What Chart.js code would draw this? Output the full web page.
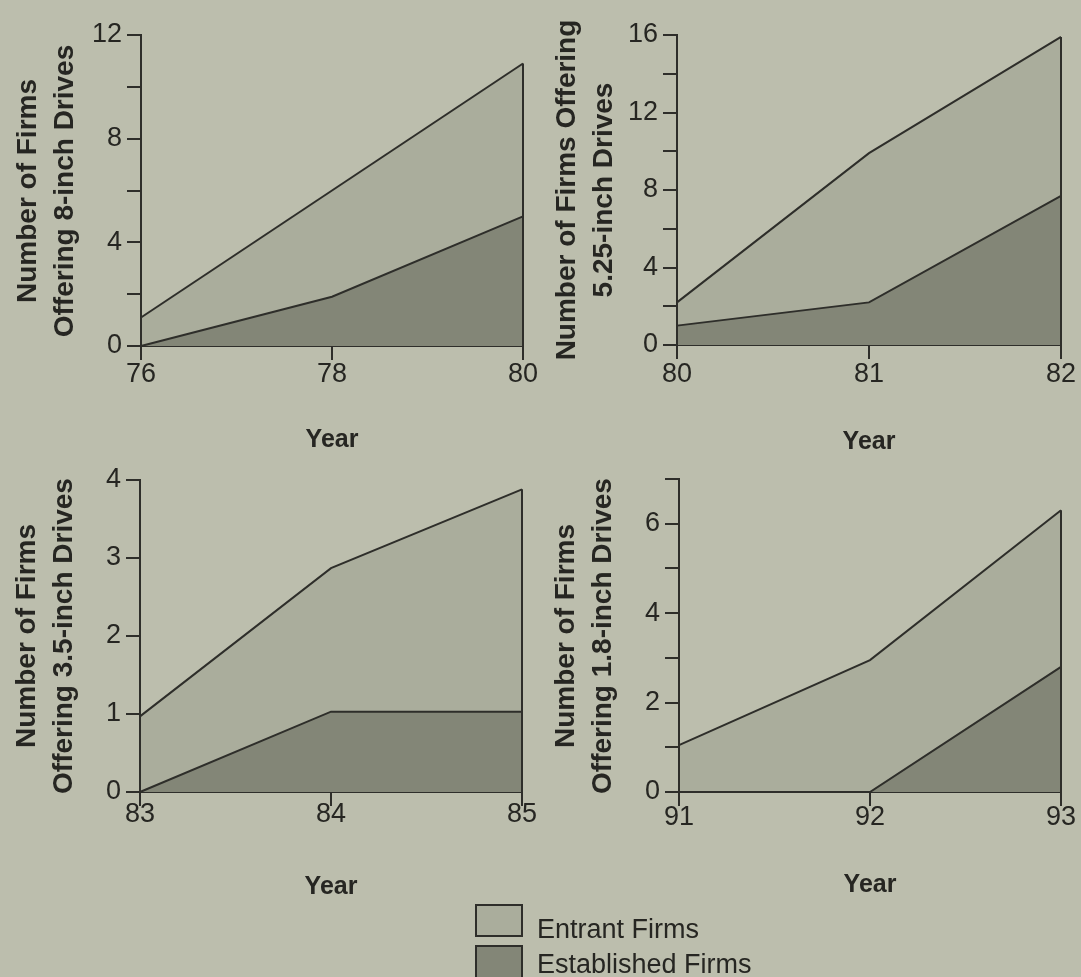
<!DOCTYPE html>
<html>
<head>
<meta charset="utf-8">
<script src="https://cdn.jsdelivr.net/npm/chart.js@4.4.1/dist/chart.umd.min.js"></script>
<style>
  html, body { margin: 0; padding: 0; }
  body { width: 1081px; height: 977px; overflow: hidden; position: relative; background: #bcbead; font-family: "Liberation Sans", Arial, sans-serif; color: #262622; }
  .panel { position: absolute; }
  .panel canvas { display: block; }
  .ytitle { position: absolute; width: 420px; height: 74px; line-height: 37px; font-size: 28px; font-weight: bold; text-align: center; white-space: nowrap; transform: rotate(-90deg); transform-origin: 50% 50%; }
  .lgbox { position: absolute; box-sizing: border-box; border: 2px solid #2e2e2a; }
  .lgtext { position: absolute; font-size: 27px; line-height: 32px; white-space: nowrap; }
</style>
</head>
<body>
<div id="root"></div>
<script>
// ---------- data ----------
const years8 = ['76', '78', '80'];
const entrant8 = [1.1, 4.1, 5.9];
const established8 = [0, 1.9, 5.0];

const years525 = ['80', '81', '82'];
const entrant525 = [1.2, 7.7, 8.2];
const established525 = [1.0, 2.2, 7.7];

const years35 = ['83', '84', '85'];
const entrant35 = [0.97, 1.84, 2.85];
const established35 = [0, 1.03, 1.03];

const years18 = ['91', '92', '93'];
const entrant18 = [1.05, 2.95, 3.5];
const established18 = [0, 0, 2.8];

const seriesNames = ['Entrant Firms', 'Established Firms'];
const xTitle = 'Year';
const yTitle8 = ['Number of Firms', 'Offering 8-inch Drives'];
const yTitle525 = ['Number of Firms Offering', '5.25-inch Drives'];
const yTitle35 = ['Number of Firms', 'Offering 3.5-inch Drives'];
const yTitle18 = ['Number of Firms', 'Offering 1.8-inch Drives'];

// y-axis ranges: max, tick step, label every
const yAxis8 = [12, 2, 4];
const yAxis525 = [16, 2, 4];
const yAxis35 = [4, 1, 1];
const yAxis18 = [7, 1, 2];

// ---------- styles ----------
const INK = '#2e2e2a';
const TEXT = '#262622';
const ENTRANT_FILL = '#aaad9c';
const ESTABLISHED_FILL = '#838677';
const FONT = '"Liberation Sans", Arial, sans-serif';

// panel geometry (layout only)
const panels = [
  { left: 0,   top: 0,   w: 540, h: 460, area: { l: 141, r: 523, t: 35, b: 346 }, titleOff: 20, tickPad: 1,  tc: [44.5, 190.5],
    labels: years8, entrant: entrant8, established: established8, yAxis: yAxis8, yTitle: yTitle8 },
  { left: 540, top: 0,   w: 541, h: 460, area: { l: 137, r: 521, t: 35, b: 345 }, titleOff: 18, tickPad: 2,  tc: [584, 190],
    labels: years525, entrant: entrant525, established: established525, yAxis: yAxis525, yTitle: yTitle525 },
  { left: 0,   top: 460, w: 540, h: 470, area: { l: 140, r: 522, t: 20, b: 332 }, titleOff: 43, tickPad: -5, tc: [44, 636],
    labels: years35, entrant: entrant35, established: established35, yAxis: yAxis35, yTitle: yTitle35 },
  { left: 540, top: 460, w: 541, h: 470, area: { l: 139, r: 521, t: 19, b: 332 }, titleOff: 45, tickPad: -2, tc: [583, 635.5],
    labels: years18, entrant: entrant18, established: established18, yAxis: yAxis18, yTitle: yTitle18 }
];

// draws the vertical edges of the stacked area at the first and last year
const areaEdges = {
  id: 'areaEdges',
  afterDatasetsDraw(chart) {
    const top = chart.getDatasetMeta(chart.data.datasets.length - 1);
    const y0 = chart.scales.y.getPixelForValue(0);
    const ctx = chart.ctx;
    ctx.save();
    ctx.strokeStyle = INK;
    ctx.lineWidth = 2;
    [top.data[0], top.data[top.data.length - 1]].forEach(pt => {
      ctx.beginPath();
      ctx.moveTo(pt.x, y0);
      ctx.lineTo(pt.x, pt.y);
      ctx.stroke();
    });
    ctx.restore();
  }
};

const root = document.getElementById('root');

panels.forEach((p) => {
  const div = document.createElement('div');
  div.className = 'panel';
  div.style.left = p.left + 'px';
  div.style.top = p.top + 'px';
  div.style.width = p.w + 'px';
  div.style.height = p.h + 'px';
  const cv = document.createElement('canvas');
  cv.width = p.w; cv.height = p.h;
  div.appendChild(cv);
  root.appendChild(div);

  const t = document.createElement('div');
  t.className = 'ytitle';
  t.style.left = (p.tc[0] - 210) + 'px';
  t.style.top = (p.tc[1] - 37) + 'px';
  t.innerHTML = p.yTitle.map(s => '<div>' + s + '</div>').join('');
  root.appendChild(t);

  const [yMax, yStep, yEvery] = p.yAxis;
  const xTitleFont = { family: FONT, size: 25, weight: 'bold', lineHeight: 1.2 };

  new Chart(cv, {
    type: 'line',
    data: {
      labels: p.labels,
      datasets: [
        { label: seriesNames[1], data: p.established, fill: 'origin', backgroundColor: ESTABLISHED_FILL,
          borderColor: INK, borderWidth: 2, pointRadius: 0, tension: 0, clip: 4 },
        { label: seriesNames[0], data: p.entrant, fill: '-1', backgroundColor: ENTRANT_FILL,
          borderColor: INK, borderWidth: 2, pointRadius: 0, tension: 0, clip: 4 }
      ]
    },
    options: {
      responsive: false,
      animation: false,
      devicePixelRatio: 1,
      events: [],
      layout: { padding: { left: 0, top: p.area.t, right: p.w - p.area.r, bottom: 0 } },
      plugins: { legend: { display: false }, tooltip: { enabled: false }, filler: { propagate: false } },
      scales: {
        x: {
          type: 'category',
          offset: false,
          grid: { display: true, drawOnChartArea: false, drawTicks: true, tickLength: 14, color: INK, lineWidth: 2 },
          border: { display: true, color: INK, width: 2 },
          ticks: { color: TEXT, font: { family: FONT, size: 27, lineHeight: 1 }, padding: p.tickPad, maxRotation: 0, autoSkip: false },
          title: { display: true, text: xTitle, color: TEXT, font: xTitleFont, padding: { top: 0, bottom: p.titleOff - 15 } },
          afterFit: (s) => { s.height = p.h - p.area.b; }
        },
        y: {
          stacked: true,
          min: 0,
          max: yMax,
          grid: { display: true, drawOnChartArea: false, drawTicks: true, tickLength: 14, color: INK, lineWidth: 2 },
          border: { display: true, color: INK, width: 2 },
          ticks: { stepSize: yStep, autoSkip: false, color: TEXT, padding: 5,
                   font: { family: FONT, size: 27, lineHeight: 1 },
                   callback: (v) => (v % yEvery === 0 ? String(v) : '') },
          afterFit: (s) => { s.width = p.area.l; }
        }
      }
    },
    plugins: [areaEdges]
  });
});

// legend
const legendItems = [
  { name: seriesNames[0], fill: ENTRANT_FILL, boxTop: 904, boxH: 33, textTop: 913 },
  { name: seriesNames[1], fill: ESTABLISHED_FILL, boxTop: 945, boxH: 40, textTop: 948 }
];
legendItems.forEach(it => {
  const b = document.createElement('div');
  b.className = 'lgbox';
  b.style.left = '475px';
  b.style.top = it.boxTop + 'px';
  b.style.width = '48px';
  b.style.height = it.boxH + 'px';
  b.style.background = it.fill;
  root.appendChild(b);
  const tx = document.createElement('div');
  tx.className = 'lgtext';
  tx.style.left = '537px';
  tx.style.top = it.textTop + 'px';
  tx.textContent = it.name;
  root.appendChild(tx);
});
</script>
</body>
</html>
